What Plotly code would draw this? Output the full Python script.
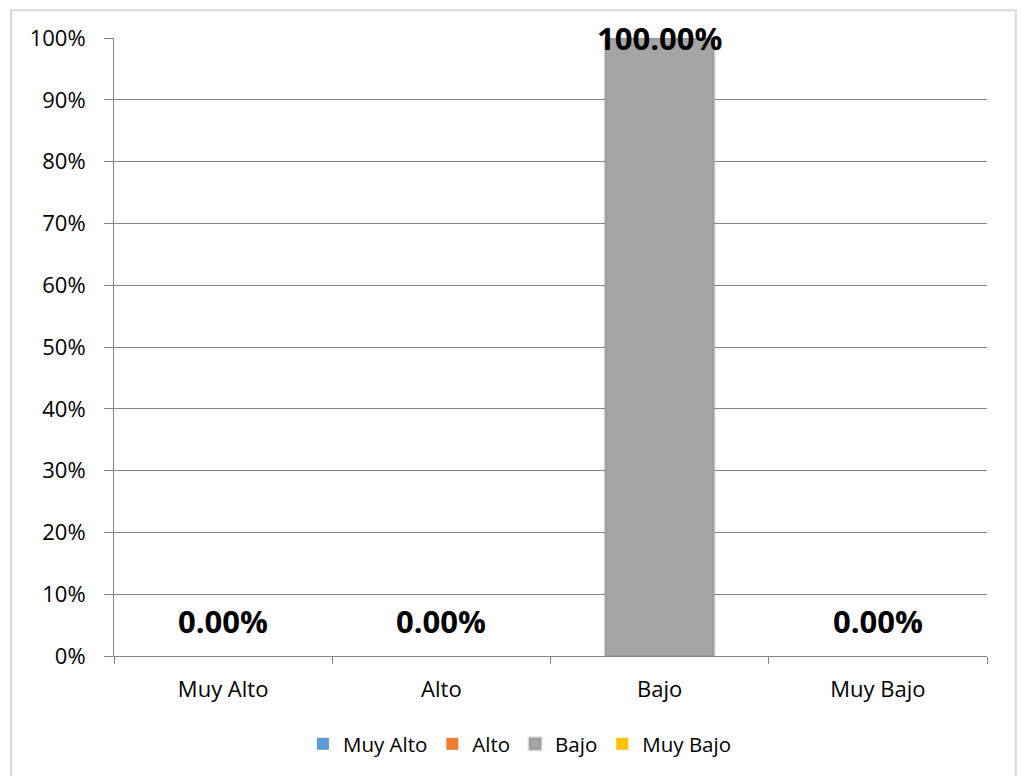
import plotly.graph_objects as go

# Categories and their shares
categories = ["Muy Alto", "Alto", "Bajo", "Muy Bajo"]
values = [0.0, 0.0, 1.0, 0.0]
colors = ["#5b9bd5", "#ed7d31", "#a5a5a5", "#ffc000"]
y_ticks = [0, 0.1, 0.2, 0.3, 0.4, 0.5, 0.6, 0.7, 0.8, 0.9, 1.0]
y_tick_labels = ["0%", "10%", "20%", "30%", "40%", "50%", "60%", "70%", "80%", "90%", "100%"]

FONT = "Open Sans, Noto Sans, sans-serif"

fig = go.Figure()
for cat, val, col in zip(categories, values, colors):
    fig.add_trace(go.Bar(
        x=[cat], y=[val], name=cat, width=0.5,
        marker=dict(color=col,
                    line=dict(color="rgba(120,120,120,0.25)", width=3 if val > 0 else 0)),
        hoverinfo="skip",
    ))

# Value labels: above the bar, pulled inside the plot when the bar reaches the top
annotations = []
for cat, val in zip(categories, values):
    near_top = val >= 0.97
    annotations.append(dict(
        x=cat, y=val, xref="x", yref="y",
        text="<b>{:.2f}%</b>".format(val * 100),
        showarrow=False,
        yanchor="middle" if near_top else "bottom",
        yshift=0 if near_top else 12,
        font=dict(family=FONT, size=31, color="#000000"),
    ))

fig.update_layout(
    width=1021, height=776,
    margin=dict(l=114, r=34, t=38, b=120),
    paper_bgcolor="white", plot_bgcolor="white",
    barmode="overlay",
    font=dict(family=FONT, size=22, color="#000000"),
    showlegend=True,
    legend=dict(orientation="h", x=0.465, xanchor="center", y=-0.11, yanchor="top",
                font=dict(family=FONT, size=20.5, color="#000000"),
                itemwidth=30, tracegroupgap=0),
    annotations=annotations,
    shapes=[dict(type="rect", xref="paper", yref="paper",
                 x0=-0.118, x1=1.033, y0=-0.25, y1=1.045,
                 line=dict(color="#d9d9d9", width=2), fillcolor="rgba(0,0,0,0)",
                 layer="below")],
)

fig.update_xaxes(
    categoryorder="array", categoryarray=categories,
    showline=True, linecolor="#868686", linewidth=1,
    ticks="outside", tickson="boundaries", ticklen=7, tickcolor="#868686",
    ticklabelstandoff=14,
    showgrid=False, tickfont=dict(family=FONT, size=22, color="#000000"),
)
fig.update_yaxes(
    range=[0, 1.0], tickvals=y_ticks, ticktext=y_tick_labels,
    showline=True, linecolor="#868686", linewidth=1,
    ticks="outside", ticklen=9, tickcolor="#868686",
    ticklabelstandoff=14,
    showgrid=True, gridcolor="#868686", gridwidth=1,
    zeroline=False,
    tickfont=dict(family=FONT, size=22, color="#000000"),
)

fig.write_html("out.html")
